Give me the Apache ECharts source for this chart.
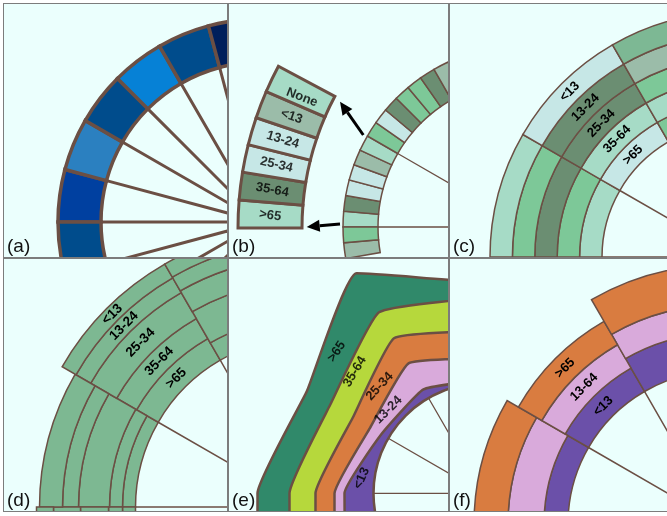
<!DOCTYPE html>
<html><head><meta charset="utf-8">
<script src="https://cdn.jsdelivr.net/npm/echarts@6/dist/echarts.min.js"></script>
<style>
html,body{margin:0;padding:0;width:667px;height:516px;background:#ffffff;overflow:hidden}
#frame{position:absolute;left:3px;top:3px;width:664px;height:509px;background:#7c7c7c}
.p{position:absolute;background:#ebfffd}
</style></head><body>
<div id="frame"></div>
<div class="p" id="pa" style="left:4px;top:4px;width:223px;height:253px"></div>
<div class="p" id="pb" style="left:229px;top:4px;width:219px;height:253px"></div>
<div class="p" id="pc" style="left:450px;top:4px;width:217px;height:253px"></div>
<div class="p" id="pd" style="left:4px;top:259px;width:223px;height:252px"></div>
<div class="p" id="pe" style="left:229px;top:259px;width:219px;height:252px"></div>
<div class="p" id="pf" style="left:450px;top:259px;width:217px;height:252px"></div>
<script>
const N = '-';
// ---------------- data ----------------
// (a) 24 hourly cells, colour level (0 = brightest blue ... 4 = darkest)
const aHours = ['00','01','02','03','04','05','06','07','08','09','10','11','12','13','14','15','16','17','18','19','20','21','22','23'];
const aLevels = [2,1,3,0,3,4, N,N,N,N,N,N, N,N,N,N,N,N, N,N,N,N,N,3];

// shared sector names and age groups
const months = ['Jan','Feb','Mar','Apr','May','Jun','Jul','Aug','Sep','Oct','Nov','Dec'];
const ageGroups6 = ['>65','35-64','25-34','13-24','<13','None'];   // inner slot order of one sector in (b)
const ageGroups5 = ['>65','35-64','25-34','13-24','<13'];          // inner -> outer in (c), (d)
const ageGroups5e = ['<13','13-24','25-34','35-64','>65'];         // inner -> outer in (e)
const ageGroups3 = ['<13','13-64','>65'];                          // inner -> outer in (f)

// (b) 12 sectors x 6 slots, colour level (0 lightest ... 5 darkest)
const bSlots = [];
months.forEach(m => ageGroups6.forEach(g => bSlots.push(m + ' ' + g)));
const bLevels = [
  1,5,0,0,2,1,  3,0,5,3,3,5,  2,N,N,N,N,N,  N,N,N,N,N,N,
  N,N,N,N,N,N,  N,N,N,N,N,N,  N,N,N,N,N,N,  N,N,N,N,N,N,
  N,N,N,N,N,N,  N,N,N,N,N,N,  N,N,N,N,N,N,  N,N,N,N,2,3
];

// (c) colour level per sector, one array per ring
const cOver65  = [1,0,3, N,N,N,N,N,N,N,N,N];
const c35to64  = [3,1,1, N,N,N,N,N,N,N,N,N];
const c25to34  = [5,5,3, N,N,N,N,N,N,N,N,N];
const c13to24  = [3,5,2, N,N,N,N,N,N,N,N,N];
const cUnder13 = [1,0,4, N,N,N,N,N,N,N,N,N];

// (d) ring thickness per sector
const dOver65  = [13,25,20, N,N,N,N,N,N,N,N,13];
const d35to64  = [13,23,36, N,N,N,N,N,N,N,N,14];
const d25to34  = [31,30,24, N,N,N,N,N,N,N,N,28];
const d13to24  = [16,17,16, N,N,N,N,N,N,N,N,27];
const dUnder13 = [23,16,15, N,N,N,N,N,N,N,N,17];

// (e) band thickness at each 30 degree direction
const eDirs = ['-60','-30','0','30','60','90','120','150','180','210','240','270'];
const eUnder13 = [N,50, 29,  8, 10,  3,  3, N,N,N,N,N];
const e13to24  = [N,12, 10, 13, 30, 22, 22, N,N,N,N,N];
const e25to34  = [N,22, 19, 20, 29, 27, 27, N,N,N,N,N];
const e35to64  = [N,30, 26, 26, 30, 33, 33, N,N,N,N,N];
const eOver65  = [N,37, 32, 27, 45, 15, 15, N,N,N,N,N];

// (f) ring thickness per sector
const fUnder13 = [24,27,38, N,N,N,N,N,N,N,N,N];
const f13to64  = [36,27,28, N,N,N,N,N,N,N,N,N];
const fOver65  = [34,27,40, N,N,N,N,N,N,N,N,N];

const LABELLED = 1;   // sector carrying the text labels

// ---------------- layout / styles ----------------
const BROWN = '#6b4f44', BG = '#ebfffd', INK = '#000000';
const FONT = '"Liberation Sans", Arial, Helvetica, sans-serif';
const bluePalette = ['#0681d6','#2b80c0','#0040a0','#004c8c','#001f5b'];
const greenPalette = ['#c6e7e6','#a6dbc6','#9bbca9','#7dc898','#7db894','#6b8e72'];
const dGreen = '#7db892';
const eColors = ['#6b50a9','#d9aadb','#d97c40','#b6d83c','#30896a'];
const fColors = ['#6b50a9','#d9aadb','#d97c40'];
const LEGEND_LAST_SLOT = 76;   // magnified legend: one cell = 1/77 of a turn
// legend text spots in (b): [radius px, direction deg from left horizontal, text rotation deg]
const bLegendSpots = [[312, 2.3, -8], [312, 7.0, -10], [312, 11.7, -13], [312, 16.4, -17], [311, 21.0, -19], [309, 25.0, -21]];
// label spots in (e): [text, radius px, direction deg, text rotation deg]
const eLabelSpots = [
  [ageGroups5e[4], 204, 44, 56],
  [ageGroups5e[3], 177, 43.4, 59],
  [ageGroups5e[2], 149, 45.8, 47],
  [ageGroups5e[1], 126.5, 41.2, 45],
  [ageGroups5e[0], 122.7, 7, 66]
];

const hideAxis = {axisLine:{show:false},axisTick:{show:false},axisLabel:{show:false},splitLine:{show:false},splitArea:{show:false}};
function angleCat(polarIndex, data, extra, start){
  return Object.assign({polarIndex, type:'category', data, startAngle: start === undefined ? 180 : start, clockwise:true, boundaryGap:true}, hideAxis, extra || {});
}
function angleVal(polarIndex){ return Object.assign({polarIndex, type:'value', min:0, max:360, startAngle:180, clockwise:true}, hideAxis); }
function radVal(polarIndex, max){ return {polarIndex, type:'value', min:0, max, show:false}; }
function spokes(width){ return {splitLine:{show:true, interval:0, lineStyle:{color:BROWN, width}}}; }
function panelTag(t){ return {type:'text', left:3, bottom:1, z:100, style:{text:t, font:'19px ' + FONT, fill:'#111'}}; }
function labelStyle(size, rotate){ return {position:'middle', rotate, fontWeight:'bold', fontSize:size, fontFamily:FONT, color:INK}; }
function textSeries(polarIndex, spots, texts){
  return {
    type:'scatter', coordinateSystem:'polar', polarIndex, symbolSize:0, silent:true, z:10,
    data:spots.map((s,i) => ({value:[s[0], s[1]], label:{show:true, position:'inside', formatter:texts[i], rotate:s[2], fontWeight:'bold', fontSize:13, fontFamily:FONT, color:INK}}))
  };
}
function mk(id){ return echarts.init(document.getElementById(id), null, {renderer:'canvas'}); }
function arrow(x1,y1,x2,y2){
  const dx=x2-x1, dy=y2-y1, L=Math.hypot(dx,dy), ux=dx/L, uy=dy/L, hl=13, hw=6;
  const bx=x2-ux*hl, by=y2-uy*hl;
  return [
    {type:'line', z:50, shape:{x1, y1, x2:bx, y2:by}, style:{stroke:'#000', lineWidth:3}},
    {type:'polygon', z:50, shape:{points:[[x2,y2],[bx-uy*hw,by+ux*hw],[bx+uy*hw,by-ux*hw]]}, style:{fill:'#000'}}
  ];
}

// ---------------- (a) ----------------
mk('pa').setOption({
  animation:false,
  polar:[{center:[257,218], radius:[160,203]}, {center:[257,218], radius:[0,160]}],
  angleAxis:[angleCat(0, aHours), angleCat(1, aHours, spokes(3))],
  radiusAxis:[radVal(0,1), radVal(1,1)],
  series:[{
    type:'bar', coordinateSystem:'polar', polarIndex:0, barCategoryGap:'0%', silent:true,
    itemStyle:{borderColor:BROWN, borderWidth:3.5},
    data:aLevels.map(v => v === N ? N : {value:1, itemStyle:{color:bluePalette[v]}})
  }],
  graphic:[panelTag('(a)')]
});

// ---------------- (b) ----------------
mk('pb').setOption({
  animation:false,
  polar:[{center:[296,223], radius:[147,182]}, {center:[296,223], radius:[0,147]}, {center:[353,224], radius:[280,344]}, {center:[353,224], radius:[0,400]}],
  angleAxis:[angleCat(0, bSlots), angleCat(1, months, spokes(1.3)), angleCat(2, ageGroups6, {max:LEGEND_LAST_SLOT}), angleVal(3)],
  radiusAxis:[radVal(0,1), radVal(1,1), radVal(2,1), radVal(3,400)],
  series:[
    {
      type:'bar', coordinateSystem:'polar', polarIndex:0, barCategoryGap:'0%', silent:true,
      itemStyle:{borderColor:BROWN, borderWidth:1.5},
      data:bLevels.map(v => v === N ? N : {value:1, itemStyle:{color:greenPalette[v]}})
    },
    {
      type:'bar', coordinateSystem:'polar', polarIndex:2, barCategoryGap:'0%', silent:true,
      itemStyle:{borderColor:BROWN, borderWidth:3},
      data:ageGroups6.map((g,i) => ({name:g, value:1, itemStyle:{color:greenPalette[bLevels[i]]}}))
    },
    textSeries(3, bLegendSpots, ageGroups6)
  ],
  graphic:[panelTag('(b)')].concat(arrow(134.3,131,111,97.7), arrow(111,220,77.7,223))
});

// ---------------- (c) ----------------
const cRings = [[ageGroups5[0], cOver65], [ageGroups5[1], c35to64], [ageGroups5[2], c25to34], [ageGroups5[3], c13to24], [ageGroups5[4], cUnder13]];
mk('pc').setOption({
  animation:false,
  polar:[{center:[285,253], radius:[133,245]}, {center:[285,253], radius:[0,133]}],
  angleAxis:[angleCat(0, months), angleCat(1, months, spokes(1.5))],
  radiusAxis:[radVal(0,5), radVal(1,1)],
  series:cRings.map(([name, arr]) => ({
    type:'bar', coordinateSystem:'polar', polarIndex:0, stack:'c', name, barCategoryGap:'0%', silent:true,
    itemStyle:{borderColor:BROWN, borderWidth:1.5},
    label:Object.assign({show:false, formatter:name}, labelStyle(13, 'tangential')),
    data:arr.map((v,i) => v === N ? N : {value:1, itemStyle:{color:greenPalette[v]}, label:{show:i === LABELLED}})
  })),
  graphic:[panelTag('(c)')]
});

// ---------------- (d) ----------------
const dRings = [[ageGroups5[0], dOver65], [ageGroups5[1], d35to64], [ageGroups5[2], d25to34], [ageGroups5[3], d13to24], [ageGroups5[4], dUnder13]];
mk('pd').setOption({
  animation:false,
  polar:[{center:[301,248], radius:[169.5,319.5]}, {center:[301,248], radius:[0,169.5]}],
  angleAxis:[angleCat(0, months), angleCat(1, months, spokes(1.5))],
  radiusAxis:[radVal(0,150), radVal(1,1)],
  series:dRings.map(([name, arr]) => ({
    type:'bar', coordinateSystem:'polar', polarIndex:0, stack:'d', name, barCategoryGap:'0%', silent:true,
    itemStyle:{color:dGreen, borderColor:BROWN, borderWidth:1.5},
    label:Object.assign({show:false, formatter:name}, labelStyle(13.5, 'tangential')),
    data:arr.map((v,i) => v === N ? N : {value:v, label:{show:i === LABELLED}})
  })),
  graphic:[panelTag('(d)')]
});

// ---------------- (e) ----------------
const eBands = [eUnder13, e13to24, e25to34, e35to64, eOver65];
mk('pe').setOption({
  animation:false,
  polar:[{center:[254.5,234.3], radius:[110,310]}, {center:[254.5,234.3], radius:[0,110]}, {center:[254.5,234.3], radius:[0,400]}],
  angleAxis:[
    angleCat(0, eDirs, {boundaryGap:false}, 240),
    angleCat(1, months, {z:5, axisLine:{show:true, lineStyle:{color:BROWN, width:2.5}}, splitLine:{show:true, interval:0, lineStyle:{color:BROWN, width:1.3}}}),
    angleVal(2)
  ],
  radiusAxis:[radVal(0,200), radVal(1,1), radVal(2,400)],
  series:eBands.map((arr, k) => ({
    type:'line', coordinateSystem:'polar', polarIndex:0, stack:'e', name:ageGroups5e[k], smooth:0.12, symbol:'none', silent:true,
    lineStyle:{color:BROWN, width:2.5}, areaStyle:{color:eColors[k], opacity:1},
    data:arr
  })).concat([textSeries(2, eLabelSpots.map(s => s.slice(1)), eLabelSpots.map(s => s[0]))]),
  graphic:[panelTag('(e)')]
});

// ---------------- (f) ----------------
const fRings = [[ageGroups3[0], fUnder13, fColors[0]], [ageGroups3[1], f13to64, fColors[1]], [ageGroups3[2], fOver65, fColors[2]]];
mk('pf').setOption({
  animation:false,
  polar:[{center:[271,265], radius:[153,273]}, {center:[271,265], radius:[0,153]}],
  angleAxis:[angleCat(0, months), angleCat(1, months, spokes(1.5))],
  radiusAxis:[radVal(0,120), radVal(1,1)],
  series:fRings.map(([name, arr, col]) => ({
    type:'bar', coordinateSystem:'polar', polarIndex:0, stack:'f', name, barCategoryGap:'0%', silent:true,
    itemStyle:{color:col, borderColor:BROWN, borderWidth:1.5},
    label:Object.assign({show:false, formatter:name}, labelStyle(13, 'tangential')),
    data:arr.map((v,i) => v === N ? N : {value:v, label:{show:i === LABELLED}})
  })),
  graphic:[panelTag('(f)')]
});
</script>
</body></html>
